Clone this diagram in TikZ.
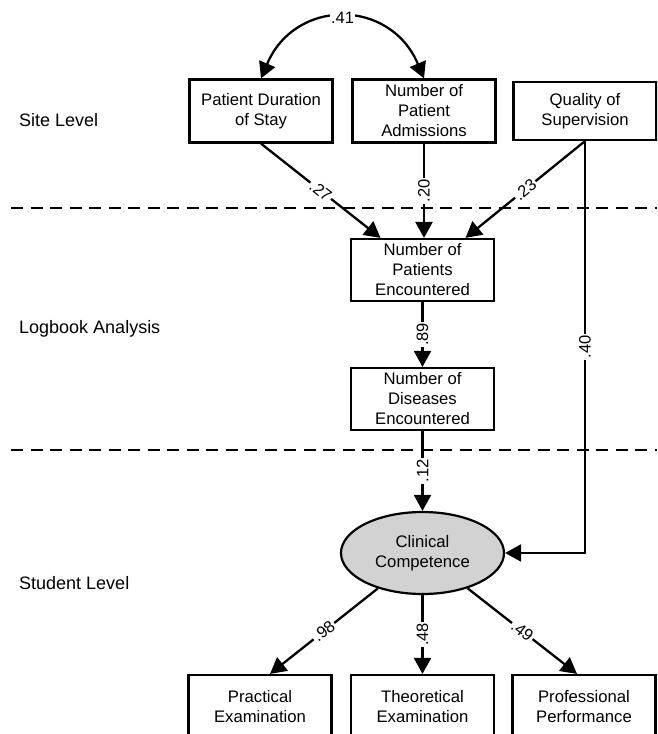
\documentclass[tikz,border=0pt]{standalone}
\usepackage{fontspec}
\setmainfont{Liberation Sans}
\usetikzlibrary{arrows.meta,shapes.geometric}

\begin{document}
\begin{tikzpicture}[x=1pt, y=-1pt, >={Triangle[length=16pt,width=17pt]},
    box/.style={draw, line width=2.2pt, minimum width=143pt, minimum height=63pt,
        inner sep=0pt, align=center, font=\fontsize{16.7}{20}\selectfont},
    latent/.style={draw, ellipse, fill=gray!35, line width=2.2pt, minimum width=163pt,
        minimum height=82pt, inner sep=0pt, align=center, font=\fontsize{16.7}{20}\selectfont},
    effect/.style={->, line width=2.3pt},
    coef/.style={fill=white, inner sep=1.5pt, font=\fontsize{16.5}{18}\selectfont},
    level/.style={anchor=base west, inner sep=0pt, font=\fontsize{18}{20}\selectfont},
    divider/.style={dash pattern=on 12pt off 7.5pt, line width=1.3pt}]
    \useasboundingbox (0,0) rectangle (657,734);
    \clip (0,0) rectangle (657,734);

    % level dividers
    \draw[divider] (11,208) -- (657,208);
    \draw[divider] (11,450) -- (657,450);

    % level names
    \node[level] (site) at (19,126) {Site Level};
    \node[level] (logbook) at (19,333) {Logbook Analysis};
    \node[level] (student) at (19,589) {Student Level};

    % site level
    \node[box] (pd) at (261,111) {Patient Duration\\of Stay};
    \node[box] (npa) at (424,111) {Number of\\Patient\\Admissions};
    \node[box, minimum height=58pt] (qs) at (585,111) {Quality of\\Supervision};

    % logbook analysis
    \node[box, minimum height=62pt] (npe) at (422.5,270) {Number of\\Patients\\Encountered};
    \node[box, minimum height=62pt] (nde) at (422.5,399) {Number of\\Diseases\\Encountered};

    % student level
    \node[latent] (cc) at (422.5,553) {Clinical\\Competence};
    \node[box] (pe) at (260,706.5) {Practical\\Examination};
    \node[box] (te) at (422.5,706.5) {Theoretical\\Examination};
    \node[box] (pp) at (584,706.5) {Professional\\Performance};

    % correlation
    \draw[<->, line width=2.3pt] (pd.north) .. controls (295,-2) and (390,-2) .. node[coef] {.41} (npa.north);

    % paths
    \draw[effect] (pd.south) -- node[coef, sloped] {.27} ([xshift=-42pt]npe.north);
    \draw[effect] (npa.south) -- node[coef, rotate=90] {.20} (npa.south |- npe.north);
    \draw[effect] (qs.south) -- node[coef, sloped] {.23} ([xshift=43pt]npe.north);
    \draw[effect] (npe) -- node[coef, rotate=90] {.89} (nde);
    \draw[effect] (qs.south) -- node[coef, rotate=90] {.40} (qs.south |- cc.east) -- (cc.east);
    \draw[effect] (nde) -- node[coef, rotate=90] {.12} (cc);

    % loadings
    \draw[effect] (cc) -- node[coef, sloped] {.98} ([xshift=10pt]pe.north);
    \draw[effect] (cc) -- node[coef, rotate=90] {.48} (te);
    \draw[effect] (cc) -- node[coef, sloped] {.49} ([xshift=-7pt]pp.north);
\end{tikzpicture}
\end{document}
